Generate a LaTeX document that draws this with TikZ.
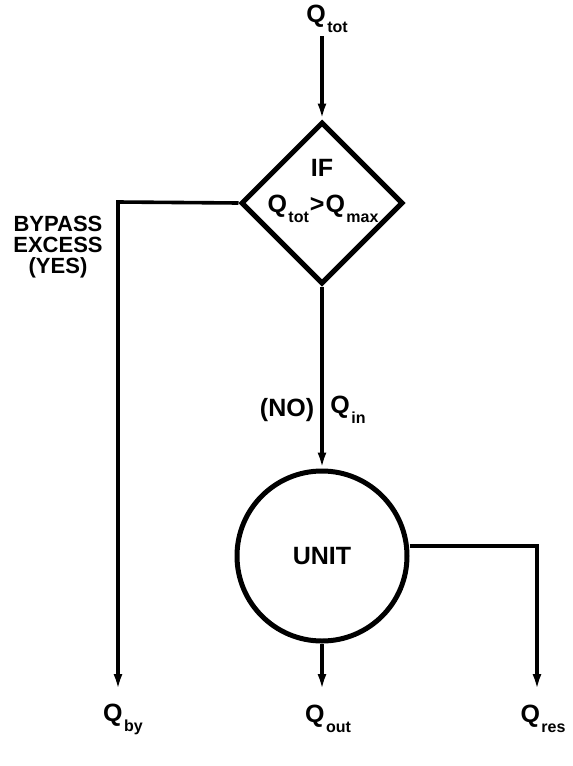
\documentclass[tikz,border=0pt]{standalone}
\usepackage{fontspec}
\setmainfont{Liberation Sans}
\usetikzlibrary{arrows.meta,shapes.geometric}
\newcommand\Qsub[1]{Q\raisebox{-0.75ex}{\fontsize{16}{16}\selectfont\kern1.5pt#1}}
\begin{document}
\begin{tikzpicture}[x=1pt,y=-1pt,
  lbl/.style={font=\bfseries\fontsize{25}{25}\selectfont, inner sep=0pt},
  flow/.style={line width=3.6pt, -{Latex[length=16pt,width=9pt]}},
  shapeline/.style={line width=5pt}]
\useasboundingbox (0,0) rectangle (573,766);
% labels
\node[lbl] (qtot) at (327,19) {\Qsub{tot}};
\node[lbl] (qby) at (123,719) {\Qsub{by}};
\node[lbl] (qout) at (328,719) {\Qsub{out}};
\node[lbl] (qres) at (543,719) {\Qsub{res}};
% decision diamond
\node[shapeline, draw, diamond, minimum width=162pt, minimum height=162pt, inner sep=0pt] (dec) at (322,203) {};
\node[lbl] (iftxt) at (322,168) {IF};
\node[lbl] (cond) at (323,209) {\Qsub{tot}\kern1pt>\kern1pt\Qsub{max}};
% unit circle
\node[shapeline, draw, circle, minimum size=170pt, inner sep=0pt] (unit) at (322,556) {};
\node[lbl] (unittxt) at (322,556) {UNIT};
% text labels
\node[lbl, align=center, font=\bfseries\fontsize{22}{21}\selectfont] (bypass) at (58,247) {BYPASS\\EXCESS\\(YES)};
\node[lbl] (no) at (287,410) {(NO)};
\node[lbl] (qin) at (348,410) {\Qsub{in}};
% coordinates
\coordinate (topc) at (322,36);
\coordinate (byc) at (118,202);
\coordinate (bytip) at (118,690);
\coordinate (outtip) at (322,690);
\coordinate (resc) at (537,546);
\coordinate (restip) at (537,690);
% connectors
\draw[flow] (topc) -- (dec.north);
\draw[flow] (dec.west) -- (byc) -- (bytip);
\draw[flow] (dec.south) -- (unit.north);
\draw[flow] (unit.south) -- (outtip);
\draw[flow] (unit.east |- resc) -- (resc) -- (restip);
\end{tikzpicture}
\end{document}
